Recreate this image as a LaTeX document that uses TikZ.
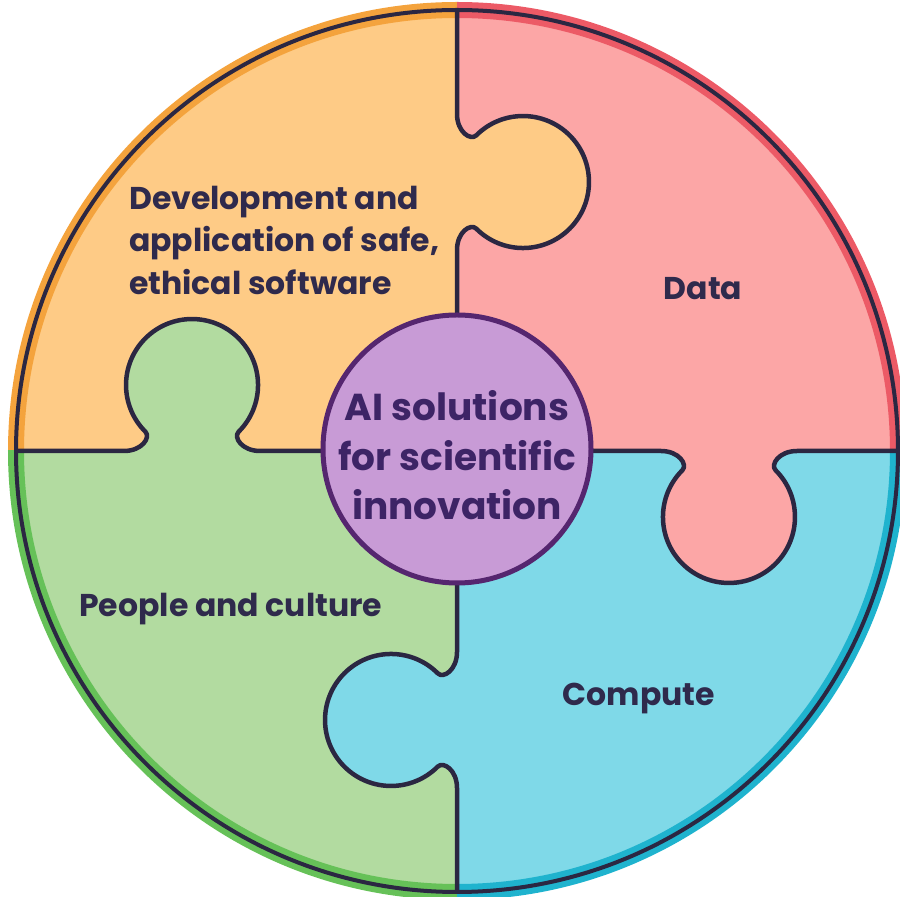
\documentclass[tikz,border=0pt]{standalone}
\usepackage{fontspec}
\setmainfont{Poppins}
\definecolor{qorange}{HTML}{FECB86}
\definecolor{qpink}{HTML}{FCA6A6}
\definecolor{qgreen}{HTML}{B2DBA0}
\definecolor{qcyan}{HTML}{7FD9E8}
\definecolor{borange}{HTML}{F4A33D}
\definecolor{bpink}{HTML}{EC5A66}
\definecolor{bgreen}{HTML}{66C158}
\definecolor{bcyan}{HTML}{1FB3CE}
\definecolor{hubfill}{HTML}{C89BD6}
\definecolor{hubring}{HTML}{55266F}
\definecolor{dk}{HTML}{2B2742}
\definecolor{txt}{HTML}{2F2A4C}
\definecolor{hubtxt}{HTML}{3D2466}
\def\knobpath{(-68,0) .. controls (-50,0) and (-41,13.6) .. (-46.7,19.3) arc[start angle=225, end angle=-45, radius=66] .. controls (41,13.6) and (50,0) .. (68,0)}
\tikzset{
  seam/.style={draw=dk, line width=4.5, line join=round},
  band/.style={line width=16},
  lbl/.style={inner sep=0, text=txt, font=\bfseries\fontsize{31.5}{42.5}\selectfont},
}
\begin{document}
\begin{tikzpicture}[x=1pt,y=1pt]
\useasboundingbox (0,0) rectangle (900,897);
\coordinate (C) at (457,446);
% quadrant fills
\begin{scope}
\clip (C) circle (441);
\fill[qorange] (C) rectangle ++(-460,460);
\fill[qpink] (C) rectangle ++(460,460);
\fill[qgreen] (C) rectangle ++(-460,-460);
\fill[qcyan] (C) rectangle ++(460,-460);
\end{scope}
% outer coloured bands
\begin{scope}\clip (C) rectangle ++(-460,460); \draw[band, borange] (C) circle (441);\end{scope}
\begin{scope}\clip (C) rectangle ++(460,460); \draw[band, bpink] (C) circle (441);\end{scope}
\begin{scope}\clip (C) rectangle ++(-460,-460); \draw[band, bgreen] (C) circle (441);\end{scope}
\begin{scope}\clip (C) rectangle ++(460,-460); \draw[band, bcyan] (C) circle (441);\end{scope}
% knobs and seams
\begin{scope}[shift={(C)}, rotate=90, yscale=-1, shift={(269,0)}]
  \fill[qorange] \knobpath -- cycle;
  \draw[seam] (-269,0) -- \knobpath -- (172,0);
\end{scope}
\begin{scope}[shift={(C)}, rotate=180, yscale=-1, shift={(265,0)}]
  \fill[qgreen] \knobpath -- cycle;
  \draw[seam] (-265,0) -- \knobpath -- (176,0);
\end{scope}
\begin{scope}[shift={(C)}, rotate=0, yscale=-1, shift={(272,0)}]
  \fill[qpink] \knobpath -- cycle;
  \draw[seam] (-272,0) -- \knobpath -- (169,0);
\end{scope}
\begin{scope}[shift={(C)}, rotate=270, yscale=-1, shift={(269,0)}]
  \fill[qcyan] \knobpath -- cycle;
  \draw[seam] (-269,0) -- \knobpath -- (172,0);
\end{scope}
% outer outline
\draw[draw=dk, line width=4] (C) circle (441);
% hub
\node[circle, minimum size=268, inner sep=0, fill=hubfill, draw=hubring, line width=5] (hub) at (457,448) {};
\node[inner sep=0, align=center, text=hubtxt, font=\bfseries\fontsize{37.5}{49.5}\selectfont] (hubtext) at (457,441.5) {AI solutions\\for scientific\\innovation};
% labels
\node[lbl, anchor=west, align=left] (dev) at (129,657) {Development and\\application of safe,\\ethical software};
\node[lbl, anchor=base] (data) at (703,597) {Data};
\node[lbl, anchor=base west] (people) at (79,280) {People and culture};
\node[lbl, anchor=base] (compute) at (639,191) {Compute};
\end{tikzpicture}
\end{document}
